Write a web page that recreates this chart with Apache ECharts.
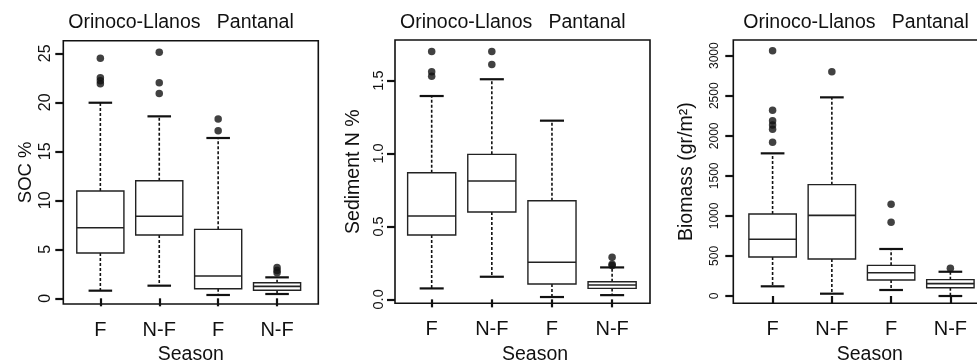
<!DOCTYPE html>
<html><head><meta charset="utf-8">
<script src="https://cdn.jsdelivr.net/npm/echarts@6/dist/echarts.min.js"></script>
<style>html,body{margin:0;padding:0;background:#fff}#c{width:977px;height:364px}</style>
</head><body><div id="c"></div>
<script>
// ---------------- data ----------------
const categories = ['F', 'N-F', 'F', 'N-F'];
const regionTitle = 'Orinoco-Llanos   Pantanal';
const xAxisTitle = 'Season';

// SOC %
const socLow = [0.78, 1.29, 0.34, 0.44];
const socQ1 = [4.62, 6.46, 0.98, 0.82];
const socMedian = [7.2, 8.37, 2.28, 1.22];
const socQ3 = [10.95, 12.0, 7.04, 1.59];
const socHigh = [19.96, 18.57, 16.36, 2.14];
const socOutliers = [[24.5, 22.5, 22.2, 21.9], [25.1, 22.0, 20.9], [18.3, 17.1], [3.15, 2.85, 2.6]];
const socTicks = [0, 5, 10, 15, 20, 25];

// Sediment N %
const sedLow = [0.075, 0.155, 0.016, 0.029];
const sedQ1 = [0.441, 0.599, 0.105, 0.075];
const sedMedian = [0.571, 0.811, 0.254, 0.098];
const sedQ3 = [0.868, 0.994, 0.676, 0.121];
const sedHigh = [1.394, 1.509, 1.225, 0.219];
const sedOutliers = [[1.70, 1.56, 1.53], [1.70, 1.61], [], [0.288, 0.24, 0.232]];
const sedTicks = [0, 0.5, 1.0, 1.5];

// Biomass (gr/m2)
const bioLow = [121, 29, 75, 0];
const bioQ1 = [487, 462, 200, 104];
const bioMedian = [708, 1007, 291, 154];
const bioQ3 = [1024, 1390, 383, 204];
const bioHigh = [1781, 2480, 587, 303];
const bioOutliers = [[3062, 2318, 2188, 2135, 2081, 1919], [2800], [1145, 920], [346]];
const bioTicks = [0, 500, 1000, 1500, 2000, 2500, 3000];

// ---------------- helpers ----------------
function boxData(low, q1, med, q3, high) {
  return categories.map((c, i) => [i + 1, low[i], q1[i], med[i], q3[i], high[i]]);
}
function outlierData(out) {
  const r = [];
  out.forEach((arr, i) => arr.forEach(v => r.push([i + 1, v])));
  return r;
}

const FONT = "'Liberation Sans', Arial, Helvetica, sans-serif";
const INK = '#111111';

const panels = [
  { name: 'SOC %', box: boxData(socLow, socQ1, socMedian, socQ3, socHigh), out: outlierData(socOutliers), ticks: socTicks,
    fmt: v => String(v), left: 63.3, top: 40.7, xMin: 0.371, xMax: 4.70, yMin: -0.58, yMax: 26.29,
    tickFont: 16, tickMargin: 10, nameFont: 18.5, nameGap: 28, titleLeft: 68.3, seasonShift: 0 },
  { name: 'Sediment N %', box: boxData(sedLow, sedQ1, sedMedian, sedQ3, sedHigh), out: outlierData(sedOutliers), ticks: sedTicks,
    fmt: v => v.toFixed(1), left: 395, top: 40, xMin: 0.39, xMax: 4.63, yMin: -0.027, yMax: 1.778,
    tickFont: 14.5, tickMargin: 9, nameFont: 19.5, nameGap: 31, titleLeft: 400, seasonShift: 25 },
  { name: 'Biomass (gr/m\u00b2)', box: boxData(bioLow, bioQ1, bioMedian, bioQ3, bioHigh), out: outlierData(bioOutliers), ticks: bioTicks,
    fmt: v => String(v), left: 733.3, top: 40, xMin: 0.337, xMax: 4.64, yMin: -91, yMax: 3196,
    tickFont: 12, tickMargin: 12.5, nameFont: 19.5, nameGap: 37, titleLeft: 743.3, seasonShift: 18 }
];

function renderBox(params, api) {
  const x = api.value(0);
  const lo = api.coord([x, api.value(1)]);
  const q1 = api.coord([x, api.value(2)]);
  const md = api.coord([x, api.value(3)]);
  const q3 = api.coord([x, api.value(4)]);
  const hi = api.coord([x, api.value(5)]);
  const bw = api.size([0.8, 0])[0];
  const cw = bw / 2;
  const cx = lo[0];
  const dash = { stroke: INK, lineWidth: 1.6, lineDash: [3, 2] };
  const cap = { stroke: INK, lineWidth: 2.2 };
  return {
    type: 'group',
    children: [
      { type: 'line', shape: { x1: cx, y1: q3[1], x2: cx, y2: hi[1] }, style: dash },
      { type: 'line', shape: { x1: cx, y1: q1[1], x2: cx, y2: lo[1] }, style: dash },
      { type: 'line', shape: { x1: cx - cw / 2, y1: hi[1], x2: cx + cw / 2, y2: hi[1] }, style: cap },
      { type: 'line', shape: { x1: cx - cw / 2, y1: lo[1], x2: cx + cw / 2, y2: lo[1] }, style: cap },
      { type: 'rect', shape: { x: cx - bw / 2, y: q3[1], width: bw, height: q1[1] - q3[1] },
        style: { fill: '#fff', stroke: '#222', lineWidth: 1.4 } },
      { type: 'line', shape: { x1: cx - bw / 2, y1: md[1], x2: cx + bw / 2, y2: md[1] },
        style: { stroke: '#222', lineWidth: 1.6 } }
    ]
  };
}

const option = {
  animation: false,
  backgroundColor: '#fff',
  textStyle: { fontFamily: FONT },
  title: panels.map(p => ({
    text: regionTitle, left: p.titleLeft, top: 13, padding: 0,
    textStyle: { fontSize: 19.5, fontWeight: 'normal', color: INK, fontFamily: FONT }
  })),
  grid: panels.map(p => ({
    left: p.left, top: p.top, width: 255, height: 263.3,
    outerBoundsMode: 'none',
    show: true, borderColor: INK, borderWidth: 1.6, backgroundColor: 'transparent', containLabel: false
  })),
  xAxis: panels.map((p, i) => ({
    gridIndex: i, type: 'value', min: p.xMin, max: p.xMax,
    axisLine: { show: false }, splitLine: { show: false },
    axisTick: { show: true, customValues: [1, 2, 3, 4], length: 8, lineStyle: { color: INK, width: 2.2 } },
    axisLabel: { customValues: [1, 2, 3, 4], formatter: v => categories[Math.round(v) - 1],
      fontSize: 20, color: INK, margin: 16, fontFamily: FONT },
    name: xAxisTitle, nameLocation: 'middle', nameGap: 40,
    nameTextStyle: { fontSize: 19.5, color: INK, fontFamily: FONT, padding: [0, 0, 0, p.seasonShift] }
  })),
  yAxis: panels.map((p, i) => ({
    gridIndex: i, type: 'value', min: p.yMin, max: p.yMax,
    axisLine: { show: false }, splitLine: { show: false },
    axisTick: { show: true, customValues: p.ticks, length: 8, lineStyle: { color: INK, width: 2.2 } },
    axisLabel: { customValues: p.ticks, formatter: p.fmt, rotate: 90, fontSize: p.tickFont,
      margin: p.tickMargin, color: INK, fontFamily: FONT },
    name: p.name, nameLocation: 'middle', nameRotate: 90, nameGap: p.nameGap,
    nameTextStyle: { fontSize: p.nameFont, color: INK, fontFamily: FONT }
  })),
  series: panels.flatMap((p, i) => [
    { type: 'custom', xAxisIndex: i, yAxisIndex: i, renderItem: renderBox, data: p.box,
      encode: { x: 0, y: [1, 2, 3, 4, 5] }, clip: false, silent: true, z: 2 },
    { type: 'scatter', xAxisIndex: i, yAxisIndex: i, data: p.out, symbolSize: 7.5,
      itemStyle: { color: INK }, clip: false, silent: true, z: 3 }
  ])
};

const chart = echarts.init(document.getElementById('c'), null, { renderer: 'canvas' });
chart.setOption(option);
</script>
</body></html>
